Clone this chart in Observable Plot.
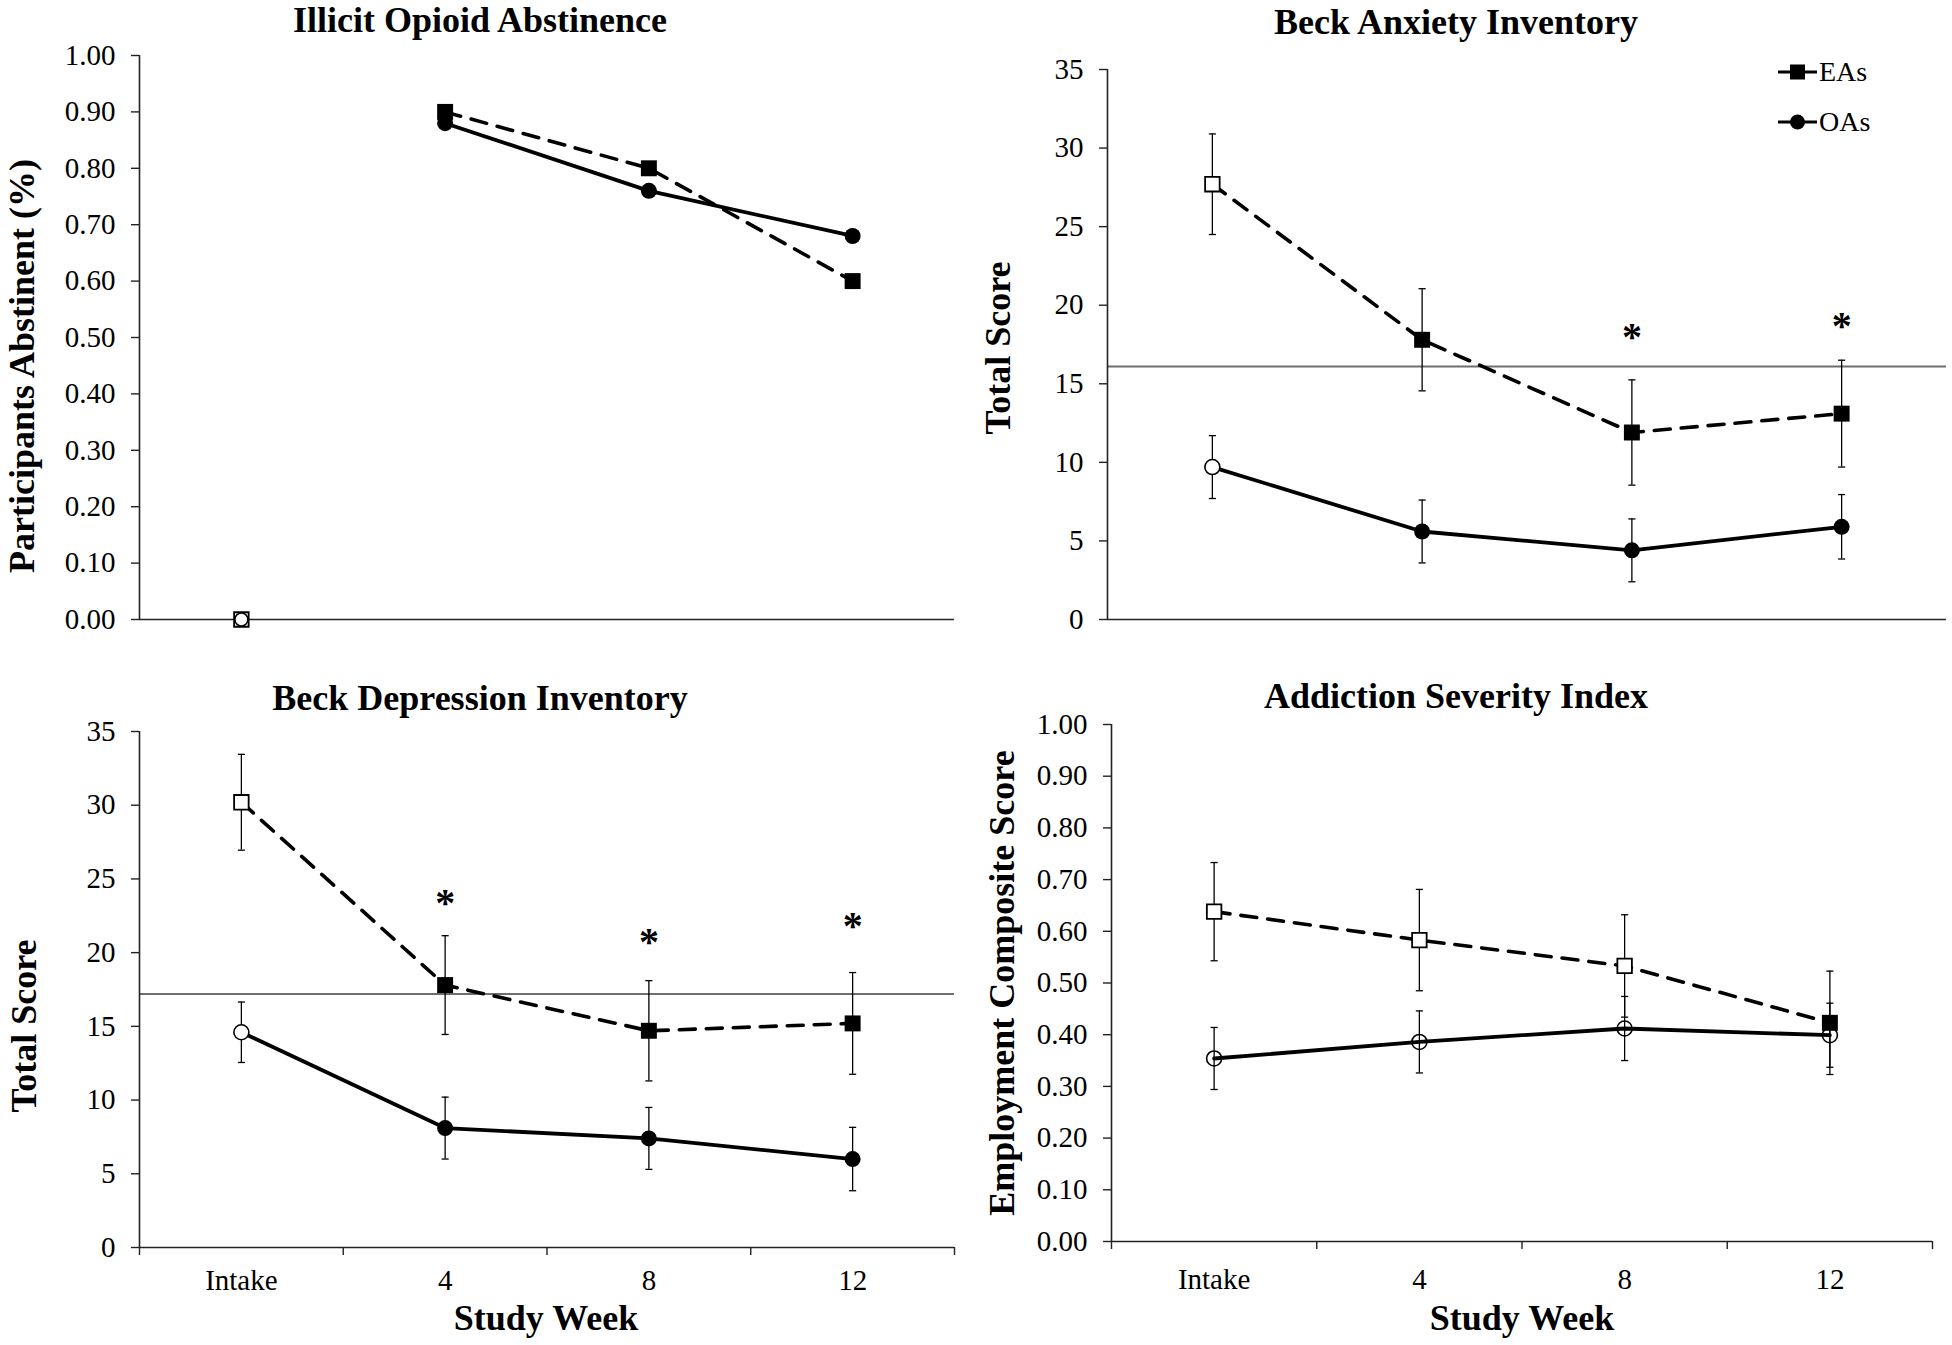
<!DOCTYPE html>
<html><head><meta charset="utf-8">
<script src="https://cdn.jsdelivr.net/npm/d3@7"></script>
<script src="https://cdn.jsdelivr.net/npm/@observablehq/plot@0.6"></script>
<style>
body{margin:0;background:#fff;}
#root{position:relative;width:1952px;height:1345px;overflow:hidden;background:#fff;font-family:"Liberation Serif","Times New Roman",serif;color:#000;}
.panel{position:absolute;}
.panel svg text{font-family:"Liberation Serif","Times New Roman",serif;}
.title{position:absolute;font-weight:bold;font-size:36px;line-height:1;white-space:nowrap;transform:translateX(-50%);}
.xlab{position:absolute;font-weight:bold;font-size:36px;line-height:1;white-space:nowrap;transform:translateX(-50%);}
.ylab{position:absolute;font-weight:bold;font-size:36px;line-height:1;white-space:nowrap;transform:translate(-50%,-50%) rotate(-90deg);}
.legend text{font-family:"Liberation Serif","Times New Roman",serif;}
</style></head><body><div id="root"></div>
<script>
// ---------- data ----------
const weeks = ["Intake", "4", "8", "12"];
const groups = ["EAs", "OAs"];

// Illicit Opioid Abstinence (proportion abstinent)
const abstEA = [0.00, 0.90, 0.80, 0.60];
const abstOA = [0.00, 0.88, 0.76, 0.68];
const abstEAfilled = [false, true, true, true];
const abstOAfilled = [false, true, true, true];
const abstTicks = [0, 0.1, 0.2, 0.3, 0.4, 0.5, 0.6, 0.7, 0.8, 0.9, 1.0];

// Beck Anxiety Inventory (total score, mean and error)
const baiEA = [27.7, 17.8, 11.9, 13.1];
const baiEAerr = [3.2, 3.25, 3.35, 3.4];
const baiOA = [9.7, 5.6, 4.4, 5.9];
const baiOAerr = [2.0, 2.0, 2.0, 2.05];
const baiEAfilled = [false, true, true, true];
const baiOAfilled = [false, true, true, true];
const baiCutoff = 16.1;
const baiStarWeeks = [2, 3];
const baiStarY = [18.4, 19.1];

// Beck Depression Inventory
const bdiEA = [30.2, 17.8, 14.7, 15.2];
const bdiEAerr = [3.25, 3.35, 3.4, 3.45];
const bdiOA = [14.6, 8.1, 7.4, 6.0];
const bdiOAerr = [2.05, 2.1, 2.1, 2.15];
const bdiEAfilled = [false, true, true, true];
const bdiOAfilled = [false, true, true, true];
const bdiCutoff = 17.2;
const bdiStarWeeks = [1, 2, 3];
const bdiStarY = [23.8, 21.2, 22.3];

const scoreTicks = [0, 5, 10, 15, 20, 25, 30, 35];

// Addiction Severity Index - Employment composite
const asiEA = [0.638, 0.583, 0.533, 0.423];
const asiEAerr = [0.095, 0.098, 0.099, 0.100];
const asiOA = [0.354, 0.386, 0.412, 0.399];
const asiOAerr = [0.060, 0.060, 0.062, 0.062];
const asiEAfilled = [false, false, false, true];
const asiOAfilled = [false, false, false, false];

const bandEdges = [-0.5, 0.5, 1.5, 2.5, 3.5];

// ---------- helpers ----------
const SERIF = '"Liberation Serif", "Times New Roman", serif';
function rows(vals, errs, filled, g) {
  return vals.map((v, i) => ({i, g, v, e: errs ? errs[i] : null, filled: filled[i]}));
}
const capSymbol = {draw(ctx, size) { const w = Math.sqrt(size) / 2; ctx.moveTo(-w, 0); ctx.lineTo(w, 0); }};

function panel(cfg) {
  const ea = rows(cfg.ea, cfg.eaErr, cfg.eaFilled, "EAs");
  const oa = rows(cfg.oa, cfg.oaErr, cfg.oaFilled, "OAs");
  const all = ea.concat(oa);
  const withErr = all.filter(d => d.e != null);
  const lineFrom = cfg.lineFrom || 0;
  const marks = [];
  if (cfg.cutoff != null) marks.push(Plot.ruleY([cfg.cutoff], {stroke: "#6e6e6e", strokeWidth: 2}));
  marks.push(Plot.ruleX([-0.5], {stroke: "#222", strokeWidth: 1.6}));
  marks.push(Plot.ruleY([cfg.yDomain[0]], {stroke: "#222", strokeWidth: 1.6}));
  marks.push(Plot.axisY({ticks: cfg.yTicks, tickSize: 8, tickPadding: 16, tickFormat: cfg.yFormat, label: null, stroke: "#222", strokeWidth: 1.4, fontFamily: SERIF, fontSize: 29}));
  if (cfg.bottom) {
    marks.push(Plot.axisX({ticks: bandEdges, tickSize: 8, tickFormat: () => "", label: null, stroke: "#222", strokeWidth: 1.4}));
    marks.push(Plot.axisX({ticks: [0, 1, 2, 3], tickSize: 0, tickPadding: cfg.labelPad, tickFormat: i => weeks[i], label: null, fontFamily: SERIF, fontSize: 29}));
  }
  // error bars
  marks.push(Plot.ruleX(withErr, {x: "i", y1: d => d.v - d.e, y2: d => d.v + d.e, stroke: "black", strokeWidth: 1.3}));
  marks.push(Plot.dot(withErr, {x: "i", y: d => d.v + d.e, symbol: capSymbol, r: 4, stroke: "black", strokeWidth: 1.3, fill: "none"}));
  marks.push(Plot.dot(withErr, {x: "i", y: d => d.v - d.e, symbol: capSymbol, r: 4, stroke: "black", strokeWidth: 1.3, fill: "none"}));
  // lines
  marks.push(Plot.line(oa.filter(d => d.i >= lineFrom), {x: "i", y: "v", stroke: "black", strokeWidth: 3.8}));
  marks.push(Plot.line(ea.filter(d => d.i >= lineFrom), {x: "i", y: "v", stroke: "black", strokeWidth: 3.6, strokeDasharray: "16,11"}));
  // markers
  marks.push(Plot.dot(ea.filter(d => d.filled), {x: "i", y: "v", symbol: "square", r: 9, fill: "black", stroke: "none"}));
  marks.push(Plot.dot(ea.filter(d => !d.filled), {x: "i", y: "v", symbol: "square", r: 8.2, fill: "white", stroke: "black", strokeWidth: 1.8}));
  marks.push(Plot.dot(oa.filter(d => d.filled), {x: "i", y: "v", r: 8, fill: "black", stroke: "none"}));
  marks.push(Plot.dot(oa.filter(d => !d.filled), {x: "i", y: "v", r: cfg.openR || 7.5, fill: cfg.openCircleFill || "white", stroke: "black", strokeWidth: 1.6}));
  if (cfg.stars) {
    const st = cfg.stars.map((w, k) => ({i: w, y: cfg.starY[k]}));
    marks.push(Plot.text(st, {x: "i", y: "y", text: () => "*", fontSize: 40, fontWeight: "bold", fontFamily: SERIF, dy: 7}));
  }
  const svg = Plot.plot({
    width: cfg.w, height: cfg.h,
    marginLeft: cfg.mL, marginRight: cfg.mR, marginTop: cfg.mT, marginBottom: cfg.mB,
    x: {type: "linear", domain: [-0.5, 3.5], axis: null},
    y: {domain: cfg.yDomain, axis: null},
    style: {fontFamily: SERIF, fontSize: "29px", color: "black", background: "transparent", overflow: "visible"},
    marks
  });
  const div = document.createElement("div");
  div.className = "panel";
  div.style.left = cfg.left + "px";
  div.style.top = cfg.top + "px";
  div.appendChild(svg);
  root.appendChild(div);
}

function addText(cls, text, x, y) {
  const d = document.createElement("div");
  d.className = cls;
  d.textContent = text;
  d.style.left = x + "px";
  d.style.top = y + "px";
  root.appendChild(d);
}

const root = document.getElementById("root");
const fmt2 = d3.format(".2f");

panel({left: 0, top: 0, w: 976, h: 672, mL: 139, mR: 22, mT: 55, mB: 53,
  yDomain: [0, 1], yTicks: abstTicks, yFormat: fmt2,
  ea: abstEA, eaErr: null, eaFilled: abstEAfilled, oa: abstOA, oaErr: null, oaFilled: abstOAfilled,
  lineFrom: 1, openR: 6.5});

panel({left: 976, top: 0, w: 976, h: 672, mL: 131, mR: 6, mT: 69, mB: 53,
  yDomain: [0, 35], yTicks: scoreTicks, yFormat: d3.format("d"),
  ea: baiEA, eaErr: baiEAerr, eaFilled: baiEAfilled, oa: baiOA, oaErr: baiOAerr, oaFilled: baiOAfilled,
  cutoff: baiCutoff, stars: baiStarWeeks, starY: baiStarY});

panel({left: 0, top: 672, w: 976, h: 673, mL: 139, mR: 22, mT: 59, mB: 98,
  yDomain: [0, 35], yTicks: scoreTicks, yFormat: d3.format("d"),
  ea: bdiEA, eaErr: bdiEAerr, eaFilled: bdiEAfilled, oa: bdiOA, oaErr: bdiOAerr, oaFilled: bdiOAfilled,
  cutoff: bdiCutoff, stars: bdiStarWeeks, starY: bdiStarY, bottom: true, labelPad: 22});

panel({left: 976, top: 672, w: 976, h: 673, mL: 135, mR: 20, mT: 52, mB: 104,
  yDomain: [0, 1], yTicks: abstTicks, yFormat: fmt2,
  ea: asiEA, eaErr: asiEAerr, eaFilled: asiEAfilled, oa: asiOA, oaErr: asiOAerr, oaFilled: asiOAfilled,
  bottom: true, labelPad: 27, openCircleFill: "none"});

// titles & axis labels
addText("title", "Illicit Opioid Abstinence", 480, 2);
addText("title", "Beck Anxiety Inventory", 1456, 4);
addText("title", "Beck Depression Inventory", 480, 680);
addText("title", "Addiction Severity Index", 1456, 678);
addText("ylab", "Participants Abstinent (%)", 22, 366);
addText("ylab", "Total Score", 998, 348);
addText("ylab", "Total Score", 24, 1026);
addText("ylab", "Employment Composite Score", 1002, 983);
addText("xlab", "Study Week", 546, 1300);
addText("xlab", "Study Week", 1522, 1300);

// legend
const leg = d3.select(root).append("svg").attr("class", "legend")
  .style("position", "absolute").style("left", "1760px").style("top", "45px")
  .attr("width", 140).attr("height", 105);
const legY = [27, 77];
groups.forEach((g, k) => {
  const y = legY[k];
  leg.append("line").attr("x1", 18).attr("x2", 57).attr("y1", y).attr("y2", y).attr("stroke", "black").attr("stroke-width", 3.2);
  if (k === 0) leg.append("rect").attr("x", 30).attr("y", y - 7.5).attr("width", 15).attr("height", 15).attr("fill", "black");
  else leg.append("circle").attr("cx", 37.5).attr("cy", y).attr("r", 7.5).attr("fill", "black");
  leg.append("text").attr("x", 59).attr("y", y + 9).text(g).attr("font-size", 28);
});
</script></body></html>
